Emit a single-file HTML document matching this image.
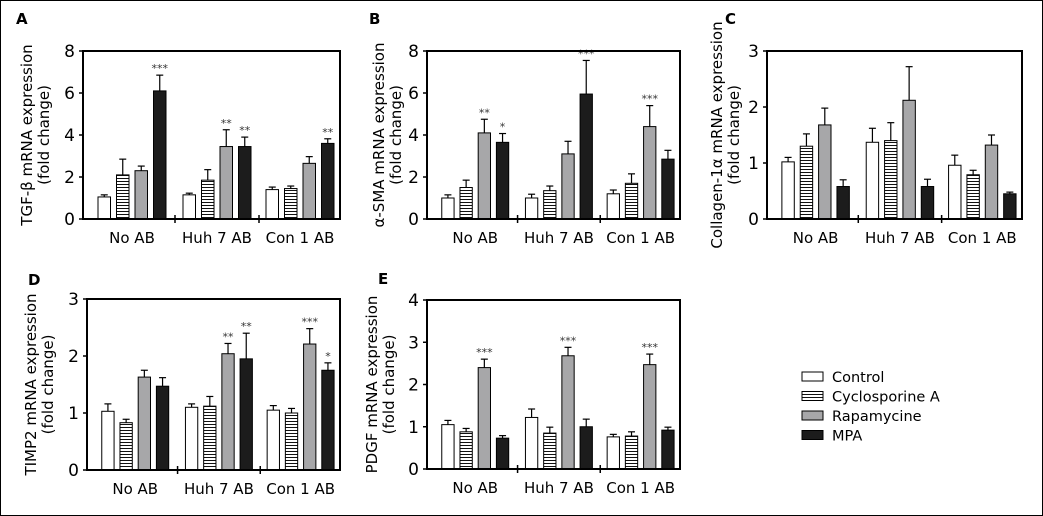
<!DOCTYPE html>
<html><head><meta charset="utf-8"><style>
html,body{margin:0;padding:0;background:#fff}
svg{display:block;font-family:"DejaVu Sans","Liberation Sans",sans-serif}
</style></head><body>
<svg id="fig" width="1043" height="516" viewBox="0 0 1043 516" xmlns="http://www.w3.org/2000/svg">
<defs>
<pattern id="hatch" width="4" height="3" patternUnits="userSpaceOnUse">
<rect width="4" height="3" fill="#fff"/><rect y="1" width="4" height="1" fill="#111"/>
</pattern>
</defs>
<rect x="0.5" y="0.5" width="1042" height="515" fill="none" stroke="#000" stroke-width="1"/>
<g id="legend"></g>
</svg>
<script>
const categories = ["No AB", "Huh 7 AB", "Con 1 AB"];
const seriesNames = ["Control", "Cyclosporine A", "Rapamycine", "MPA"];
const fills = ["#fff", "url(#hatch)", "#a7a7a9", "#1c1c1c"];

const tgfValues = [[1.05,2.1,2.3,6.1],[1.15,1.85,3.45,3.45],[1.4,1.45,2.65,3.6]];
const tgfErrors = [[0.1,0.75,0.22,0.75],[0.08,0.5,0.8,0.45],[0.12,0.12,0.32,0.22]];
const tgfStars = [["","","","***"],["","","**","**"],["","","","**"]];

const smaValues = [[1.0,1.5,4.1,3.65],[1.0,1.35,3.1,5.95],[1.2,1.7,4.4,2.85]];
const smaErrors = [[0.15,0.35,0.65,0.42],[0.18,0.22,0.6,1.6],[0.18,0.45,1.0,0.42]];
const smaStars = [["","","**","*"],["","","","***"],["","","***",""]];

const colValues = [[1.02,1.3,1.68,0.58],[1.37,1.4,2.12,0.58],[0.96,0.79,1.32,0.45]];
const colErrors = [[0.08,0.22,0.3,0.12],[0.25,0.32,0.6,0.13],[0.18,0.08,0.18,0.03]];
const colStars = [["","","",""],["","","",""],["","","",""]];

const timpValues = [[1.03,0.83,1.63,1.47],[1.1,1.12,2.04,1.95],[1.05,1.0,2.21,1.75]];
const timpErrors = [[0.13,0.06,0.12,0.15],[0.06,0.17,0.18,0.45],[0.08,0.08,0.27,0.13]];
const timpStars = [["","","",""],["","","**","**"],["","","***","*"]];

const pdgfValues = [[1.05,0.88,2.4,0.73],[1.22,0.85,2.68,1.0],[0.76,0.78,2.47,0.92]];
const pdgfErrors = [[0.1,0.08,0.2,0.06],[0.2,0.14,0.2,0.18],[0.06,0.1,0.25,0.07]];
const pdgfStars = [["","","***",""],["","","***",""],["","","***",""]];

const tick8 = [0,2,4,6,8];
const tick3 = [0,1,2,3];
const tick4 = [0,1,2,3,4];

const NS="http://www.w3.org/2000/svg";
const svg=document.getElementById('fig');
function mk(tag,attrs,parent){const e=document.createElementNS(NS,tag);for(const k in attrs)e.setAttribute(k,attrs[k]);(parent||svg).appendChild(e);return e;}

function panel(p){
  const g=mk('g',{});
  
  
  const W=p.r-p.l, H=p.b-p.t, ymax=p.ticks[p.ticks.length-1];
  const y=v=>p.b-v/ymax*H;
  const sc=W/257;
  const groupOff=[15,100,183].map(o=>o*sc);
  const step=18.5*sc, bw=12.5*sc;
  p.values.forEach((grp,gi)=>{
    grp.forEach((v,si)=>{
      const x=p.l+groupOff[gi]+si*step;
      const cx=x+bw/2, top=y(v), et=y(v+p.errors[gi][si]);
      const eb=mk('line',{x1:cx,x2:cx,y1:top,y2:et,stroke:'#000','stroke-width':1.2},g);
      
      
      const cap=mk('line',{x1:cx-3.5,x2:cx+3.5,y1:et,y2:et,stroke:'#000','stroke-width':1.2},g);
      
      
      const r=mk('rect',{x:x,y:top,width:bw,height:p.b-top,fill:fills[si],stroke:'#000','stroke-width':1},g);
      
      
      const s=p.stars[gi][si];
      if(s){const t=mk('text',{x:cx,y:et-3,'text-anchor':'middle','font-size':11,fill:'#333'},g);t.textContent=s;
        
        }
    });
  });
  const fr=mk('rect',{x:p.l,y:p.t,width:W,height:H,fill:'none',stroke:'#000','stroke-width':2},g);
  
  
  p.ticks.forEach(v=>{
    const tl=mk('line',{x1:p.l-4,x2:p.l,y1:y(v),y2:y(v),stroke:'#000','stroke-width':1.5},g);
    
    
    const t=mk('text',{x:p.l-8,y:y(v)+6,'text-anchor':'end','font-size':17},g);
    t.textContent=v;
    
    
  });
  [92,176].forEach(o=>{const xx=p.l+o*sc;
    const sl=mk('line',{x1:xx,x2:xx,y1:p.b-4,y2:p.b+4,stroke:'#000','stroke-width':1.5},g);
    
    });
  categories.forEach((c,gi)=>{
    const cx=p.l+groupOff[gi]+(3*step+bw)/2;
    const t=mk('text',{x:cx,y:p.b+24,'text-anchor':'middle','font-size':15},g);
    t.textContent=c;
    
    
  });
  const mid=(p.t+p.b)/2;
  const yt=mk('text',{transform:`translate(${p.tx},${mid}) rotate(-90)`,'text-anchor':'middle','font-size':15},g);
  
  
  const t1=mk('tspan',{x:0,y:0},yt);t1.textContent=p.title;
  const t2=mk('tspan',{x:0,y:17},yt);t2.textContent='(fold change)';
  const lt=mk('text',{x:p.lx,y:p.ly,'font-size':15,'font-weight':'bold'},g);
  lt.textContent=p.letter;
  
  
}

panel({name:'panel-a-tgf-beta',letter:'A',lx:16,ly:24,l:83,r:340,t:51,b:219,ticks:tick8,values:tgfValues,errors:tgfErrors,stars:tgfStars,title:'TGF-β mRNA expression',tx:32});
panel({name:'panel-b-alpha-sma',letter:'B',lx:369,ly:24,l:427,r:680,t:51,b:219,ticks:tick8,values:smaValues,errors:smaErrors,stars:smaStars,title:'α-SMA mRNA expression',tx:384});
panel({name:'panel-c-collagen',letter:'C',lx:725,ly:24,l:767,r:1022,t:51,b:219,ticks:tick3,values:colValues,errors:colErrors,stars:colStars,title:'Collagen-1α mRNA expression',tx:722});
panel({name:'panel-d-timp2',letter:'D',lx:28,ly:285,l:87,r:340,t:299,b:470,ticks:tick3,values:timpValues,errors:timpErrors,stars:timpStars,title:'TIMP2 mRNA expression',tx:36});
panel({name:'panel-e-pdgf',letter:'E',lx:378,ly:284,l:427,r:680,t:300,b:469,ticks:tick4,values:pdgfValues,errors:pdgfErrors,stars:pdgfStars,title:'PDGF mRNA expression',tx:377});

const lg=document.getElementById('legend');
seriesNames.forEach((n,i)=>{
  const yy=372+i*19.5;
  const r=mk('rect',{x:802,y:yy,width:21,height:9,fill:fills[i],stroke:'#000','stroke-width':1},lg);
  
  
  const t=mk('text',{x:832,y:yy+10,'font-size':14.5},lg);
  t.textContent=n;
  
  
});
</script>
</body></html>
